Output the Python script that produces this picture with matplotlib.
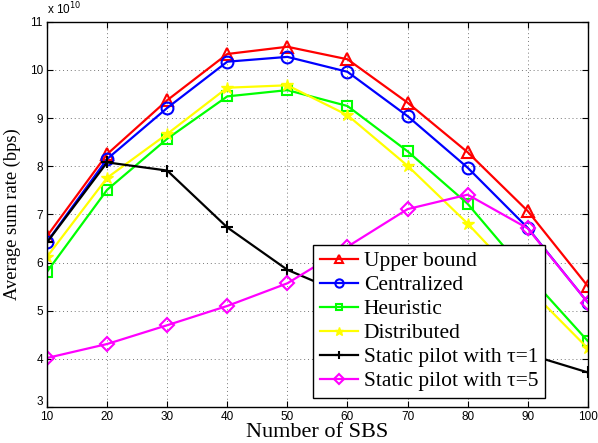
import matplotlib
matplotlib.use("Agg")
import matplotlib.pyplot as plt
from matplotlib.transforms import ScaledTranslation

sbs = [10, 20, 30, 40, 50, 60, 70, 80, 90, 100]
# values in units of 1e10 bps
upper = [6.55, 8.25, 9.37, 10.33, 10.48, 10.22, 9.32, 8.29, 7.07, 5.51]
central = [6.43, 8.15, 9.21, 10.17, 10.27, 9.96, 9.04, 7.97, 6.72, 5.17]
heuristic = [5.81, 7.51, 8.57, 9.45, 9.58, 9.25, 8.31, 7.22, 5.75, 4.37]
distributed = [6.12, 7.76, 8.67, 9.63, 9.68, 9.06, 8.01, 6.81, 5.48, 4.22]
static1 = [6.42, 8.08, 7.91, 6.73, 5.85, 5.32, 4.90, 4.50, 4.10, 3.72]
static5 = [4.02, 4.31, 4.70, 5.10, 5.57, 6.33, 7.11, 7.41, 6.71, 5.17]

labels = ["Upper bound", "Centralized", "Heuristic", "Distributed",
          "Static pilot with \u03c4=1", "Static pilot with \u03c4=5"]
xticks = [10, 20, 30, 40, 50, 60, 70, 80, 90, 100]
yticks = [3, 4, 5, 6, 7, 8, 9, 10, 11]

fig = plt.figure(figsize=(5.98, 4.43), dpi=100)
ax = fig.add_axes([0.0786, 0.081, 0.9044, 0.870])

lw = 1.6
ms = 8.5
ax.plot(sbs, upper, color=(1, 0, 0), marker='^', ms=9, mfc='none', mew=1.5, lw=lw, label=labels[0])
ax.plot(sbs, central, color=(0, 0, 1), marker='o', ms=ms, mfc='none', mew=1.5, lw=lw, label=labels[1])
ax.plot(sbs, heuristic, color=(0, 1, 0), marker='s', ms=7, mfc='none', mew=1.5, lw=lw, label=labels[2])
ax.plot(sbs, distributed, color=(1, 1, 0), marker='*', ms=9, mew=1.0, lw=lw, label=labels[3])
ax.plot(sbs, static1, color='black', marker='+', ms=9, mew=1.5, lw=lw, label=labels[4])
ax.plot(sbs, static5, color=(1, 0, 1), marker='D', ms=7, mfc='none', mew=1.5, lw=lw, label=labels[5])

ax.set_xlim(10, 100)
ax.set_ylim(3, 11)
ax.set_xticks(xticks)
ax.set_yticks(yticks)
ax.set_xticklabels([str(v) for v in xticks], fontsize=8.5, family='Liberation Sans')
ax.set_yticklabels([str(v) for v in yticks], fontsize=8.5, family='Liberation Sans')
ax.tick_params(direction='in', top=True, right=True, length=4, width=0.8, pad=3)
ax.grid(True, linestyle=(0, (1, 3)), color='#777777', linewidth=0.7)
for s in ax.spines.values():
    s.set_linewidth(1.0)

# raise the lowest y tick label above the x tick labels (as in the reference)
lab0 = ax.get_yticklabels()[0]
lab0.set_transform(lab0.get_transform() + ScaledTranslation(0, 5 / 72, fig.dpi_scale_trans))

ax.set_xlabel("Number of SBS", fontsize=16, family='Liberation Serif', labelpad=0)
ax.set_ylabel("Average sum rate (bps)", fontsize=13.3, family='Liberation Serif', labelpad=6)
ax.text(0.0, 1.012, r"x 10$^{10}$", transform=ax.transAxes, fontsize=8.5,
        family='Liberation Sans', ha='left', va='bottom')

leg = ax.legend(loc='upper left', bbox_to_anchor=(0.492, 0.421),
                prop={'family': 'Liberation Serif', 'size': 15.5}, frameon=True, fancybox=False,
                borderpad=0.3, labelspacing=0.18, handlelength=1.8, handletextpad=0.25,
                borderaxespad=0, markerscale=0.7)
leg.get_frame().set_edgecolor('black')
leg.get_frame().set_linewidth(1.0)
leg.get_frame().set_alpha(1)

fig.savefig("out.png", dpi=100)
